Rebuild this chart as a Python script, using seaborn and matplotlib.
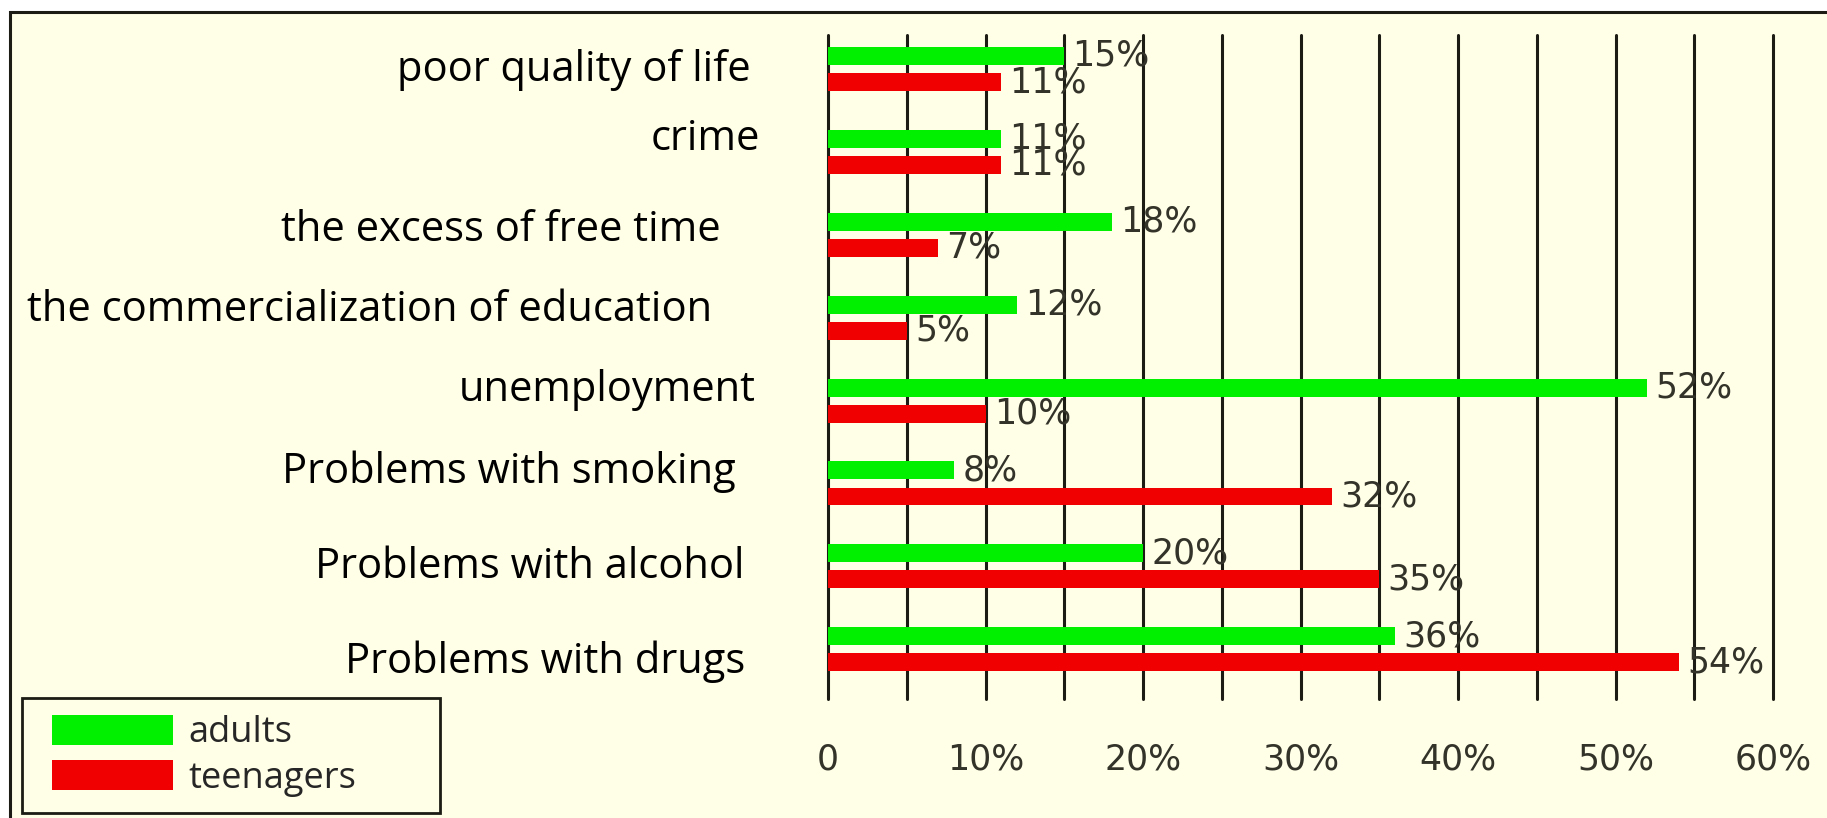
import matplotlib
matplotlib.use("Agg")

import matplotlib.pyplot as plt
import matplotlib.transforms as mtransforms
import pandas as pd
import seaborn as sns
from matplotlib.patches import Rectangle

# survey data (in %)
categories = [
    "poor quality of life",
    "crime",
    "the excess of free time",
    "the commercialization of education",
    "unemployment",
    "Problems with smoking",
    "Problems with alcohol",
    "Problems with drugs",
]
adults = [15, 11, 18, 12, 52, 8, 20, 36]
teenagers = [11, 11, 7, 5, 10, 32, 35, 54]

groups = ["adults", "teenagers"]
colors = ["#00f000", "#f00000"]
x_ticks = [0, 10, 20, 30, 40, 50, 60]
x_tick_labels = ["0", "10%", "20%", "30%", "40%", "50%", "60%"]

# the slide's text boxes are not aligned exactly: small nudges in pixels
label_dx = [6, 15, -24, -33, 11, -9, -1, 0]
label_dy = [1, -13, -5, -8, -11, -12, 1, 12]

df = pd.DataFrame({
    "category": categories * 2,
    "share": adults + teenagers,
    "group": ["adults"] * len(categories) + ["teenagers"] * len(categories),
})

W, H = 1827, 818
bg = "#fffee6"
ink = "#1c1c14"
pixel_grey = "#33332a"

sns.set_theme(style="white")
plt.rcParams["font.family"] = ["DejaVu Sans"]

fig = plt.figure(figsize=(W / 100, H / 100), dpi=100, facecolor="white")

# slide frame: yellow panel with a black border on top/left
fig.add_artist(
    Rectangle(
        (10 / W, -0.05), 1.1, 1 - 12 / H + 0.05,
        transform=fig.transFigure,
        facecolor=bg, edgecolor=ink, lw=2.2, zorder=-10
    )
)

ax = fig.add_axes([828 / W, 1 - 699 / H, 945 / W, 664 / H])
ax.set_facecolor("none")

sns.barplot(
    data=df,
    y="category",
    x="share",
    hue="group",
    hue_order=groups,
    order=categories,
    palette=colors,
    orient="h",
    width=0.628,
    gap=0.31,
    saturation=1,
    linewidth=0,
    ax=ax
)

ax.set_xlim(0, 60)
ax.set_ylim(7.60, -0.41)

ax.set_xticks(x_ticks)
ax.set_xticklabels(x_tick_labels)
ax.set_xticks(range(5, 60, 10), minor=True)

ax.grid(axis="x", which="both", color=ink, lw=2.2)
ax.grid(axis="y", visible=False)
ax.set_axisbelow(True)

for tick in ax.xaxis.get_major_ticks() + ax.xaxis.get_minor_ticks():
    tick.gridline.set_clip_on(False)

for s in ax.spines.values():
    s.set_visible(False)

ax.set_xlabel("")
ax.set_ylabel("")

ax.tick_params(axis="x", which="both", length=0, pad=31,
               labelsize=25, labelcolor=pixel_grey)
ax.set_yticklabels([])
ax.tick_params(axis="y", length=0)

# category names, right aligned left of the plot
base = mtransforms.blended_transform_factory(ax.transAxes, ax.transData)
for i, name in enumerate(categories):
    shift = mtransforms.ScaledTranslation(
        (label_dx[i] - 83) / 100, -label_dy[i] / 100, fig.dpi_scale_trans
    )
    ax.text(
        0, i, name,
        transform=base + shift,
        ha="right", va="center",
        fontsize=30,
        family=["Open Sans", "DejaVu Sans"],
        color="black"
    )

for cont in ax.containers:
    ax.bar_label(
        cont,
        labels=[f"{v:.0f}%" for v in cont.datavalues],
        padding=6,
        fontsize=25,
        color=pixel_grey
    )

handles, labels = ax.get_legend_handles_labels()
ax.get_legend().remove()

# legend box
fig.add_artist(
    Rectangle(
        (22 / W, 5 / H), 418 / W, 115 / H,
        transform=fig.transFigure,
        facecolor=bg, edgecolor=ink, lw=2, zorder=1
    )
)

leg = fig.legend(
    handles,
    labels,
    loc="lower left",
    bbox_to_anchor=(36 / W, 5 / H, 390 / W, 115 / H),
    mode="expand",
    borderaxespad=0,
    prop={"family": ["Open Sans", "DejaVu Sans"], "size": 26},
    frameon=False,
    handlelength=3.35,
    handleheight=0.9,
    handletextpad=0.42,
    labelspacing=0.25,
    borderpad=0.45
)
leg.set_zorder(2)

fig.savefig("out.png", dpi=100, facecolor="white")
